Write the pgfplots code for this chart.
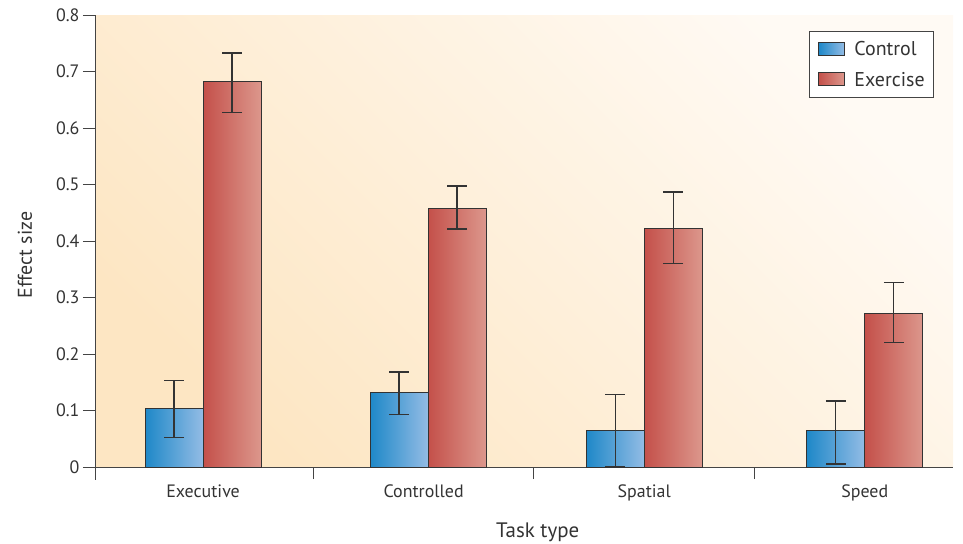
\documentclass[border=0pt]{standalone}
\usepackage{pgfplots}
\pgfplotsset{compat=1.18}
\usepackage{fontspec}
\setmainfont{PT Sans}
\definecolor{txt}{HTML}{333333}
\definecolor{axc}{HTML}{444444}
\definecolor{bgA}{HTML}{FDE6C3}
\definecolor{bgB}{HTML}{FFFAF4}
\definecolor{blA}{HTML}{1E88C8}
\definecolor{blB}{HTML}{93BCE5}
\definecolor{rdA}{HTML}{C4504A}
\definecolor{rdB}{HTML}{DC978C}

\begin{document}
\begin{tikzpicture}
\useasboundingbox (0,0) rectangle (963bp,544bp);
\begin{axis}[
  at={(95bp,77bp)}, anchor=south west,
  scale only axis, width=858bp, height=452bp,
  xmin=-0.49, xmax=3.40, ymin=0, ymax=0.8,
  ybar=0pt, bar width=58bp,
  axis x line=bottom, axis y line=left,
  axis line style={-, draw=axc, line width=1pt},
  xtick={0,1,2,3},
  xticklabels={Executive,Controlled,Spatial,Speed},
  major x tick style={draw=none},
  minor xtick={0.5,1.5,2.5},
  minor tick length=12bp,
  major tick length=12bp,
  tick align=outside,
  tick style={draw=axc, line width=1pt},
  ytick={0,0.1,0.2,0.3,0.4,0.5,0.6,0.7,0.8},
  yticklabels={0,0.1,0.2,0.3,0.4,0.5,0.6,0.7,0.8},
  /pgf/number format/assume math mode=true,
  ticklabel style={font=\fontsize{18}{21}\selectfont, text=txt},
  x tick label style={yshift=-2bp},
  xlabel={Task type}, ylabel={Effect size},
  every axis x label/.style={at={(axis description cs:0.516,0)}, anchor=center, yshift=-65bp, font=\fontsize{21}{24}\selectfont, text=txt},
  every axis y label/.style={at={(axis description cs:-0.0816,0.469)}, rotate=90, anchor=center, font=\fontsize{20}{23}\selectfont, text=txt},
  axis background/.style={top color=bgB, bottom color=bgA, shading angle=-45},
  clip=false,
  legend style={at={(0.978,0.965)}, anchor=north east, draw=axc, line width=1pt, fill=white,
    font=\fontsize{20}{23}\selectfont, text=txt, inner xsep=7bp, inner ysep=8bp, row sep=11bp},
  legend cell align=left,
  legend image code/.code={\path[draw=none, fill=none, shade=false] (0bp,-6bp) rectangle (36bp,7bp); \draw[#1,/tikz/.cd] (2bp,-6bp) rectangle (28bp,7bp);},
  error bars/y dir=both, error bars/y explicit,
  error bars/error bar style={draw=txt, line width=1.4pt},
  error bars/error mark options={draw=txt, line width=1.4pt, mark size=10bp, rotate=90},
  ctl/.style={draw=txt, line width=1pt, left color=blA, right color=blB, bar shift=-29bp},
  exe/.style={draw=txt, line width=1pt, left color=rdA, right color=rdB, bar shift=29bp},
]
% Control
\addplot[ctl] coordinates {(0,0.103) += (0,0.050) -= (0,0.051)};
\addlegendentry{Control}
\addplot[ctl, forget plot] coordinates {(1.02,0.131) += (0,0.037) -= (0,0.038)};
\addplot[ctl, forget plot] coordinates {(2,0.065) += (0,0.063) -= (0,0.065)};
\addplot[ctl, forget plot] coordinates {(3,0.065) += (0,0.052) -= (0,0.060)};
% Exercise
\addplot[exe] coordinates {(0,0.683) += (0,0.050) -= (0,0.056)};
\addlegendentry{Exercise}
\addplot[exe, forget plot] coordinates {(1.02,0.458) += (0,0.039) -= (0,0.037)};
\addplot[exe, forget plot] coordinates {(2,0.422) += (0,0.065) -= (0,0.062)};
\addplot[exe, forget plot] coordinates {(3,0.272) += (0,0.055) -= (0,0.052)};
\draw[axc, line width=1pt] (axis cs:-0.49,0) -- ([yshift=-13bp]axis cs:-0.49,0);
\end{axis}
\end{tikzpicture}
\end{document}
